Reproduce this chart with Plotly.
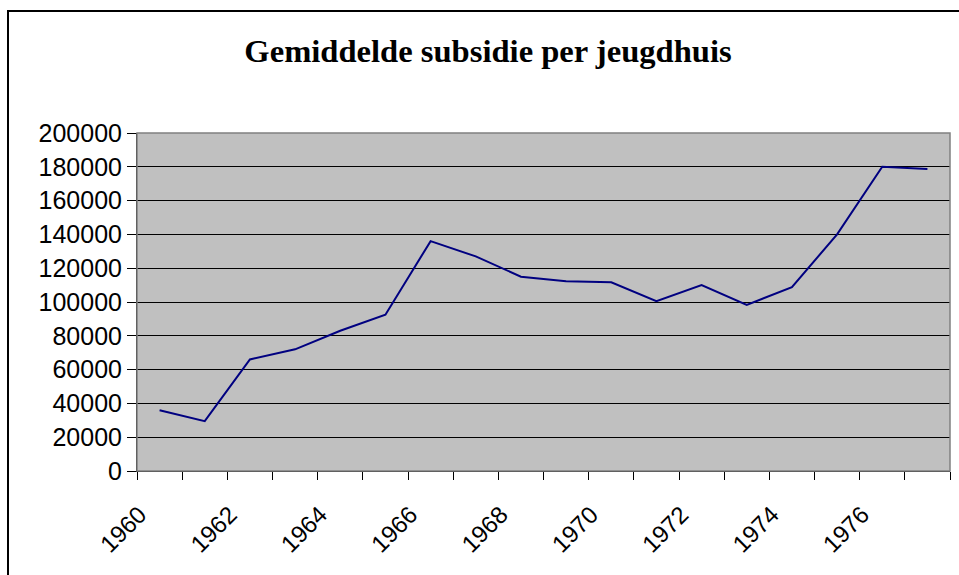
import plotly.graph_objects as go

years = ["1960", "1961", "1962", "1963", "1964", "1965", "1966", "1967", "1968",
         "1969", "1970", "1971", "1972", "1973", "1974", "1975", "1976", "1977"]
subsidie = [36000, 29500, 66000, 72000, 83000, 92500, 136000, 127000, 115000,
            112300, 111700, 100500, 110000, 98300, 108800, 140000, 180000, 178700]
y_ticks = [0, 20000, 40000, 60000, 80000, 100000, 120000, 140000, 160000, 180000, 200000]
x_labels = [y if int(y) % 2 == 0 else "" for y in years]

W, H = 959, 575
L, R, T, B = 137, 950, 133, 471

def px_to_paper_x(px):
    return (px - L) / (R - L)

def px_to_paper_y(py):
    return (B - py) / (B - T)

fig = go.Figure()
fig.add_trace(go.Scatter(x=years, y=subsidie, mode="lines",
                         line=dict(color="#000080", width=2), showlegend=False,
                         hoverinfo="x+y"))

fig.update_layout(
    width=W, height=H,
    margin=dict(l=L, r=W - R, t=T, b=H - B, pad=0),
    paper_bgcolor="white",
    plot_bgcolor="#C0C0C0",
    title=dict(text="<b>Gemiddelde subsidie per jeugdhuis</b>",
               font=dict(family="Liberation Serif, Times New Roman, serif", size=32.6, color="black"),
               x=488 / W, xanchor="center", y=1 - 51 / H, yanchor="middle"),
    xaxis=dict(type="category", tickson="boundaries", tickmode="array",
               tickvals=years, ticktext=x_labels, tickangle=-45,
               ticks="outside", ticklen=8, tickcolor="black", tickwidth=1,
               showline=True, linecolor="black", linewidth=1,
               showgrid=False, zeroline=False,
               ticklabelstandoff=19, ticklabelshift=-20,
               tickfont=dict(family="Liberation Sans, Arial, sans-serif", size=24, color="black"),
               range=[-0.5, 17.5]),
    yaxis=dict(range=[0, 200000], tickmode="array", tickvals=y_ticks,
               ticks="outside", ticklen=9, tickcolor="black", tickwidth=1,
               showline=True, linecolor="black", linewidth=1,
               showgrid=True, gridcolor="black", gridwidth=1, zeroline=False,
               tickformat="d",
               tickfont=dict(family="Liberation Sans, Arial, sans-serif", size=25, color="black")),
    shapes=[
        dict(type="rect", xref="paper", yref="paper", x0=0, x1=1, y0=0, y1=1,
             line=dict(color="#808080", width=1.5), layer="above"),
        dict(type="rect", xref="paper", yref="paper",
             x0=px_to_paper_x(8), x1=px_to_paper_x(970),
             y0=px_to_paper_y(590), y1=px_to_paper_y(11),
             line=dict(color="black", width=2), layer="above"),
    ],
)

fig.write_html("out.html",
               config={"displayModeBar": False},
               post_script="document.body.style.margin='0px';document.body.style.overflow='hidden';")
